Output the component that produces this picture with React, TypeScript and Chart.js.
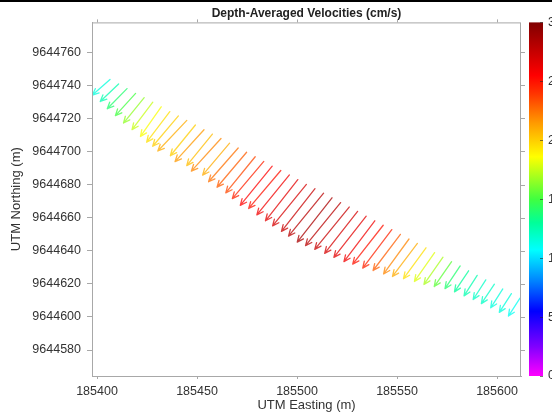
import { useEffect, useRef } from 'react';
import { Chart, registerables } from 'chart.js';
Chart.register(...registerables);

// Ensemble (arrow tail) positions along the transect, UTM metres
const eastings = [
  185406.5, 185410.8, 185415.0, 185419.3, 185423.6, 185427.9, 185432.1, 185436.4, 185440.7, 185444.9,
  185449.2, 185453.5, 185457.7, 185462.0, 185466.3, 185470.6, 185474.8, 185479.1, 185483.4, 185487.6,
  185491.9, 185496.2, 185500.4, 185504.7, 185509.0, 185513.3, 185517.5, 185521.8, 185526.1, 185530.3,
  185534.6, 185538.9, 185543.1, 185547.4, 185551.7, 185556.0, 185560.2, 185564.5, 185568.8, 185573.0,
  185577.3, 185581.6, 185585.8, 185590.1, 185594.4, 185598.7, 185602.9, 185607.2, 185611.5,
];
const northings = [
  9644743.5, 9644740.8, 9644738.0, 9644735.1, 9644732.5, 9644729.8, 9644727.0, 9644724.1, 9644721.5, 9644718.8,
  9644716.0, 9644713.1, 9644710.5, 9644707.8, 9644705.0, 9644702.1, 9644699.5, 9644696.8, 9644694.0, 9644691.1,
  9644688.5, 9644685.8, 9644683.0, 9644680.1, 9644677.5, 9644674.8, 9644672.0, 9644669.1, 9644666.4, 9644663.8,
  9644660.9, 9644658.1, 9644655.4, 9644652.8, 9644649.9, 9644647.1, 9644644.4, 9644641.8, 9644638.9, 9644636.1,
  9644633.4, 9644630.8, 9644627.9, 9644625.1, 9644622.4, 9644619.8, 9644616.9, 9644614.1, 9644611.4,
];
// Depth-averaged speed (cm/s)
const speeds = [
  11.5, 12.5, 14.0, 15.0, 16.5, 17.5, 18.5, 19.5, 20.0, 21.0,
  20.0, 21.5, 20.5, 22.0, 21.0, 22.5, 23.0, 23.5, 24.5, 25.5,
  25.0, 26.0, 26.5, 27.0, 27.5, 28.0, 28.5, 28.0, 27.5, 27.0,
  26.5, 26.0, 25.0, 24.5, 23.0, 22.0, 21.0, 19.5, 18.0, 17.0,
  15.5, 14.0, 13.0, 12.5, 12.0, 12.0, 11.5, 11.5, 11.0,
];
// Flow direction (degrees clockwise from north)
const directions = [
  223, 221, 219, 217, 214, 212, 210, 212, 215, 218,
  214, 217, 214, 217, 215, 216, 215, 214, 215, 214,
  215, 214, 213, 214, 213, 214, 213, 214, 214, 213,
  213, 212, 213, 212, 212, 211, 212, 211, 210, 210,
  210, 209, 209, 208, 208, 209, 208, 208, 208,
];

const xTicks = [185400, 185450, 185500, 185550, 185600];
const yTicks = [9644580, 9644600, 9644620, 9644640, 9644660, 9644680, 9644700, 9644720, 9644740, 9644760];
const cbTicks = [0, 5, 10, 15, 20, 25, 30];
const cbStopValues = [0, 2.5, 5.5, 8, 10.7, 13, 15, 18.6, 21.5, 24, 25.5, 30];
const cbStopColors = [
  '#ff00ff', '#8000ff', '#0000ff', '#0080ff', '#00ffff', '#00ff99', '#40ff40',
  '#ffff00', '#ff9900', '#ff3300', '#ff0000', '#800000',
];

const FONT = '"Liberation Sans", Arial, sans-serif';
const ARROW_SCALE = 1.12; // metres of map per cm/s
const FRAME = '#a8a8a8';

function hexToRgb(h: string) {
  const n = parseInt(h.slice(1), 16);
  return [(n >> 16) & 255, (n >> 8) & 255, n & 255];
}
function colorFor(v: number) {
  const vals = cbStopValues;
  let i = 0;
  while (i < vals.length - 2 && v > vals[i + 1]) i++;
  const t = Math.max(0, Math.min(1, (v - vals[i]) / (vals[i + 1] - vals[i])));
  const a = hexToRgb(cbStopColors[i]);
  const b = hexToRgb(cbStopColors[i + 1]);
  const c = a.map((x, k) => Math.round(x + (b[k] - x) * t));
  return `rgba(${c[0]},${c[1]},${c[2]},0.75)`;
}

function noPad(s: any) {
  s.paddingTop = 0;
  s.paddingBottom = 0;
  s.paddingLeft = 0;
  s.paddingRight = 0;
}

const arrowPlugin = {
  id: 'arrows',
  afterDatasetsDraw(chart: any) {
    const { ctx, chartArea, scales } = chart;
    const xs = scales.x, ys = scales.y;
    ctx.save();
    ctx.beginPath();
    ctx.rect(chartArea.left, chartArea.top, chartArea.right - chartArea.left, chartArea.bottom - chartArea.top);
    ctx.clip();
    ctx.lineWidth = 1.3;
    ctx.lineCap = 'round';
    ctx.lineJoin = 'round';
    for (let i = 0; i < eastings.length; i++) {
      const L = speeds[i] * ARROW_SCALE;
      const th = (directions[i] * Math.PI) / 180;
      const e2 = eastings[i] + L * Math.sin(th);
      const n2 = northings[i] + L * Math.cos(th);
      const tx = xs.getPixelForValue(eastings[i]);
      const ty = ys.getPixelForValue(northings[i]);
      const hx = xs.getPixelForValue(e2);
      const hy = ys.getPixelForValue(n2);
      const ang = Math.atan2(hy - ty, hx - tx);
      const hl = 7, ha = 0.42;
      ctx.strokeStyle = colorFor(speeds[i]);
      ctx.beginPath();
      ctx.moveTo(tx, ty);
      ctx.lineTo(hx, hy);
      ctx.moveTo(hx - hl * Math.cos(ang - ha), hy - hl * Math.sin(ang - ha));
      ctx.lineTo(hx, hy);
      ctx.lineTo(hx - hl * Math.cos(ang + ha), hy - hl * Math.sin(ang + ha));
      ctx.stroke();
    }
    ctx.restore();
  },
  afterDraw(chart: any) {
    const { ctx, chartArea, scales } = chart;
    ctx.save();
    // top strip of the screenshot
    ctx.fillStyle = '#000';
    ctx.fillRect(0, 0, chart.width, 2);
    // frame
    ctx.strokeStyle = FRAME;
    ctx.lineWidth = 1;
    ctx.strokeRect(chartArea.left + 0.5, chartArea.top + 0.5, chartArea.right - chartArea.left - 1, chartArea.bottom - chartArea.top);
    // outward ticks on top and right borders
    ctx.beginPath();
    for (const v of xTicks) {
      const px = Math.round(scales.x.getPixelForValue(v)) + 0.5;
      ctx.moveTo(px, chartArea.top);
      ctx.lineTo(px, chartArea.top - 3);
    }
    for (const v of yTicks) {
      const py = Math.round(scales.y.getPixelForValue(v)) + 0.5;
      ctx.moveTo(chartArea.right, py);
      ctx.lineTo(chartArea.right + 4, py);
    }
    ctx.stroke();
    // colour bar
    const cb = scales.cb;
    const top = cb.getPixelForValue(30);
    const bot = cb.getPixelForValue(0);
    const x0 = chartArea.right + 8;
    const w = 14;
    const g = ctx.createLinearGradient(0, bot, 0, top);
    cbStopValues.forEach((v, k) => g.addColorStop(v / 30, cbStopColors[k]));
    ctx.fillStyle = g;
    ctx.fillRect(x0, top, w, bot - top);
    ctx.strokeStyle = 'rgba(40,40,40,0.6)';
    ctx.beginPath();
    for (const v of cbTicks) {
      const py = Math.round(cb.getPixelForValue(v)) + 0.5;
      ctx.moveTo(x0 + w - 3, py);
      ctx.lineTo(x0 + w, py);
    }
    ctx.stroke();
    ctx.restore();
  },
};

export default function App() {
  const ref = useRef<HTMLCanvasElement | null>(null);
  useEffect(() => {
    document.body.style.margin = '0';
    const canvas = ref.current!;
    const chart = new Chart(canvas, {
      type: 'scatter',
      data: {
        datasets: [
          {
            data: eastings.map((e, i) => ({ x: e, y: northings[i] })),
            pointRadius: 0,
            showLine: false,
          },
        ],
      },
      options: {
        animation: false,
        responsive: false,
        devicePixelRatio: 1,
        layout: { padding: 0 },
        plugins: {
          legend: { display: false },
          tooltip: { enabled: false },
          title: {
            display: true,
            text: 'Depth-Averaged Velocities (cm/s)',
            fullSize: false,
            color: '#222',
            font: { family: FONT, size: 12, weight: 'bold' },
            padding: { top: 6, bottom: 2 },
          },
        },
        scales: {
          x: {
            type: 'linear',
            position: 'bottom',
            min: 185397.5,
            max: 185612,
            afterBuildTicks: (s: any) => { s.ticks = xTicks.map((v) => ({ value: v })); },
            afterFit: (s: any) => { s.height = 39; noPad(s); },
            ticks: {
              callback: (v: any) => String(v),
              color: '#333',
              font: { family: FONT, size: 12.5 },
              padding: 5,
              maxRotation: 0,
            },
            grid: { drawOnChartArea: false, drawTicks: true, tickLength: 3, color: FRAME },
            border: { display: true, color: FRAME },
            title: {
              display: true,
              text: 'UTM Easting (m)',
              color: '#333',
              font: { family: FONT, size: 13 },
              padding: { top: 0, bottom: 2 },
            },
          },
          y: {
            type: 'linear',
            position: 'left',
            min: 9644564.3,
            max: 9644778,
            afterBuildTicks: (s: any) => { s.ticks = yTicks.map((v) => ({ value: v })); },
            afterFit: (s: any) => { s.width = 92; noPad(s); },
            ticks: {
              callback: (v: any) => String(v),
              color: '#333',
              font: { family: FONT, size: 12.5 },
              padding: 6,
            },
            grid: { drawOnChartArea: false, drawTicks: true, tickLength: 5, color: FRAME },
            border: { display: true, color: FRAME },
            title: {
              display: true,
              text: 'UTM Northing (m)',
              color: '#333',
              font: { family: FONT, size: 13 },
              padding: { top: 9, bottom: 0 },
            },
          },
          cb: {
            type: 'linear',
            position: 'right',
            min: 0,
            max: 30,
            afterBuildTicks: (s: any) => { s.ticks = cbTicks.map((v) => ({ value: v })); },
            afterFit: (s: any) => { s.width = 31; noPad(s); },
            ticks: {
              callback: (v: any) => String(v),
              color: '#333',
              font: { family: FONT, size: 12.5 },
              padding: 27,
            },
            grid: { display: false, drawOnChartArea: false, drawTicks: false },
            border: { display: false },
          },
        },
      },
      plugins: [arrowPlugin],
    } as any);
    return () => chart.destroy();
  }, []);
  return (
    <div style={{ width: 552, height: 415, background: '#fff' }}>
      <canvas ref={ref} width={552} height={415} />
    </div>
  );
}
